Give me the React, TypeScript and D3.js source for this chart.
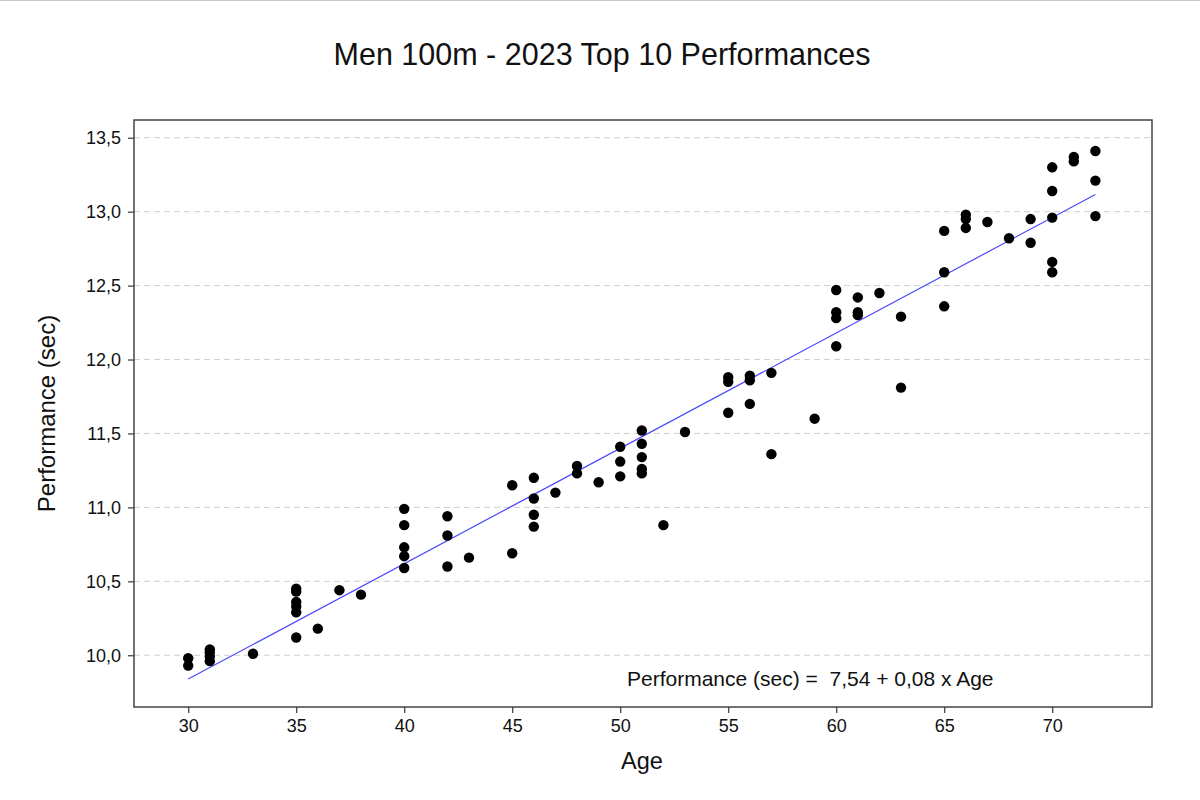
import * as d3 from "d3";
import React, { useEffect, useRef } from "react";

// one entry per point: age and best 100m time (sec)
const ages = [
  30, 30,
  31, 31, 31, 31,
  33,
  35, 35, 35, 35, 35, 35,
  36, 37, 38,
  40, 40, 40, 40, 40,
  42, 42, 42,
  43,
  45, 45,
  46, 46, 46, 46,
  47,
  48, 48,
  49,
  50, 50, 50,
  51, 51, 51, 51, 51,
  52, 53,
  55, 55, 55,
  56, 56, 56,
  57, 57,
  59,
  60, 60, 60, 60,
  61, 61, 61,
  62,
  63, 63,
  65, 65, 65,
  66, 66, 66,
  67, 68,
  69, 69,
  70, 70, 70, 70, 70,
  71, 71,
  72, 72, 72,
];

const performances = [
  9.98, 9.93,
  10.04, 10.02, 9.99, 9.96,
  10.01,
  10.45, 10.43, 10.36, 10.33, 10.29, 10.12,
  10.18, 10.44, 10.41,
  10.99, 10.88, 10.73, 10.67, 10.59,
  10.94, 10.81, 10.6,
  10.66,
  11.15, 10.69,
  11.2, 11.06, 10.95, 10.87,
  11.1,
  11.28, 11.23,
  11.17,
  11.41, 11.31, 11.21,
  11.52, 11.43, 11.34, 11.26, 11.23,
  10.88, 11.51,
  11.88, 11.85, 11.64,
  11.89, 11.86, 11.7,
  11.91, 11.36,
  11.6,
  12.47, 12.32, 12.28, 12.09,
  12.42, 12.32, 12.3,
  12.45,
  12.29, 11.81,
  12.87, 12.59, 12.36,
  12.98, 12.95, 12.89,
  12.93, 12.82,
  12.95, 12.79,
  13.3, 13.14, 12.96, 12.66, 12.59,
  13.37, 13.34,
  13.41, 13.21, 12.97,
];

const xTicks = [30, 35, 40, 45, 50, 55, 60, 65, 70];
const yTicks = [10.0, 10.5, 11.0, 11.5, 12.0, 12.5, 13.0, 13.5];

const title = "Men 100m - 2023 Top 10 Performances";
const equationText = "Performance (sec) =  7,54 + 0,08 x Age";

const FONT = "'Liberation Sans', Arial, sans-serif";

const App: React.FC = () => {
  const ref = useRef<SVGSVGElement | null>(null);

  useEffect(() => {
    if (!ref.current) return;
    d3.select(ref.current).selectAll("*").remove();

    const width = 1200;
    const height = 800;
    const margin = { top: 120, right: 48, bottom: 93, left: 134 };

    const svg = d3.select(ref.current).attr("width", width).attr("height", height);

    const x = d3
      .scaleLinear()
      .domain([27.49, 74.62])
      .range([margin.left, width - margin.right]);

    const y = d3
      .scaleLinear()
      .domain([9.65, 13.62])
      .range([height - margin.bottom, margin.top]);

    // thin frame line on top of the image
    svg
      .append("line")
      .attr("x1", 0)
      .attr("x2", width)
      .attr("y1", 0.5)
      .attr("y2", 0.5)
      .attr("stroke", "#c8c8c8");

    // Title
    svg
      .append("text")
      .attr("x", 602)
      .attr("y", 65)
      .attr("text-anchor", "middle")
      .attr("font-family", FONT)
      .attr("font-size", 30.5)
      .attr("fill", "#111")
      .text(title);

    // dashed grid lines
    svg
      .append("g")
      .selectAll("line")
      .data(yTicks)
      .join("line")
      .attr("x1", margin.left)
      .attr("x2", width - margin.right)
      .attr("y1", (d) => y(d))
      .attr("y2", (d) => y(d))
      .attr("stroke", "#cfcfcf")
      .attr("stroke-width", 1)
      .attr("stroke-dasharray", "6,4");

    // regression line (least squares)
    const n = ages.length;
    const mx = d3.mean(ages) as number;
    const my = d3.mean(performances) as number;
    let sxy = 0;
    let sxx = 0;
    for (let i = 0; i < n; i++) {
      sxy += (ages[i] - mx) * (performances[i] - my);
      sxx += (ages[i] - mx) * (ages[i] - mx);
    }
    const slope = sxy / sxx;
    const intercept = my - slope * mx;
    const [minAge, maxAge] = d3.extent(ages) as [number, number];

    svg
      .append("line")
      .attr("x1", x(minAge))
      .attr("x2", x(maxAge))
      .attr("y1", y(intercept + slope * minAge))
      .attr("y2", y(intercept + slope * maxAge))
      .attr("stroke", "#4a4aff")
      .attr("stroke-width", 1.2);

    // points
    svg
      .append("g")
      .selectAll("circle")
      .data(ages.map((a, i) => [a, performances[i]] as [number, number]))
      .join("circle")
      .attr("cx", (d) => x(d[0]))
      .attr("cy", (d) => y(d[1]))
      .attr("r", 5.2)
      .attr("fill", "#000");

    // X Axis
    const xAxis = svg
      .append("g")
      .attr("transform", `translate(0,${height - margin.bottom})`)
      .call(d3.axisBottom(x).tickValues(xTicks).tickSize(6).tickPadding(6));

    // Y Axis
    const yAxis = svg
      .append("g")
      .attr("transform", `translate(${margin.left},0)`)
      .call(
        d3
          .axisLeft(y)
          .tickValues(yTicks)
          .tickSize(6)
          .tickPadding(7)
          .tickFormat((d) => d3.format(".1f")(d as number).replace(".", ","))
      );

    [xAxis, yAxis].forEach((g) => {
      g.select(".domain").remove();
      g.selectAll(".tick line").attr("stroke", "#444").attr("stroke-width", 1.3);
      g.selectAll(".tick text")
        .attr("font-family", FONT)
        .attr("font-size", 18)
        .attr("fill", "#111");
    });

    // plot frame
    svg
      .append("rect")
      .attr("x", margin.left)
      .attr("y", margin.top)
      .attr("width", width - margin.left - margin.right)
      .attr("height", height - margin.top - margin.bottom)
      .attr("fill", "none")
      .attr("stroke", "#444")
      .attr("stroke-width", 1.5);

    // regression equation
    svg
      .append("text")
      .attr("x", 627)
      .attr("y", 686)
      .attr("font-family", FONT)
      .attr("font-size", 21)
      .attr("fill", "#111")
      .style("white-space", "pre")
      .text(equationText);

    // Axis titles
    svg
      .append("text")
      .attr("x", 642)
      .attr("y", 769)
      .attr("text-anchor", "middle")
      .attr("font-family", FONT)
      .attr("font-size", 23.5)
      .attr("fill", "#111")
      .text("Age");

    svg
      .append("text")
      .attr("transform", `translate(55,${(margin.top + height - margin.bottom) / 2}) rotate(-90)`)
      .attr("text-anchor", "middle")
      .attr("font-family", FONT)
      .attr("font-size", 24)
      .attr("fill", "#111")
      .text("Performance (sec)");
  }, []);

  return <svg ref={ref} style={{ position: "absolute", left: 0, top: 0 }}></svg>;
};

export default App;
